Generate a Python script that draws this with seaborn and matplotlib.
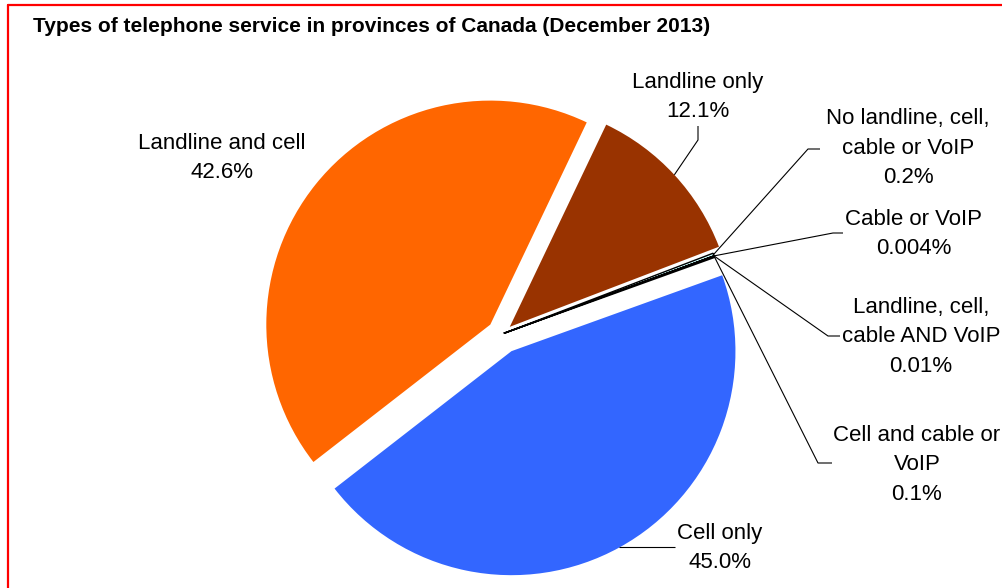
import matplotlib
matplotlib.use("Agg")
import matplotlib.pyplot as plt
from matplotlib.lines import Line2D
import numpy as np
import seaborn as sns

# Share of households by type of telephone service (December 2013)
categories = [
    "Landline only",
    "No landline, cell,\ncable or VoIP",
    "Cable or VoIP",
    "Landline, cell,\ncable AND VoIP",
    "Cell and cable or\nVoIP",
    "Cell only",
    "Landline and cell",
]
shares = [12.1, 0.2, 0.004, 0.01, 0.1, 45.0, 42.6]
share_labels = ["12.1%", "0.2%", "0.004%", "0.01%", "0.1%", "45.0%", "42.6%"]

colors = ["#993300", "#CCFFFF", "#CCFFFF", "#CCFFFF", "#CCFFFF", "#3366FF", "#FF6600"]
# wedge offsets from the pie centre, in pixels
explode = [10.6, 2.0, 2.0, 2.0, 2.0, 19.6, 15.0]

sns.set_theme(style="white")
plt.rcParams["font.family"] = ["Liberation Sans", "DejaVu Sans"]

W, H = 1002, 588
fig = plt.figure(figsize=(W / 100, H / 100), dpi=100)
fig.patch.set_facecolor("white")
ax = fig.add_axes([0, 0, 1, 1])


def px(x, y):
    """Pixel position (origin top-left) to axes data coordinates."""
    return x, H - y


wedges, _ = ax.pie(
    shares,
    explode=explode,
    colors=colors,
    startangle=64.5,
    counterclock=False,
    radius=224,
    center=px(502, 334),
    wedgeprops=dict(linewidth=0),
)
for w, v in zip(wedges, shares):
    if v < 1:
        w.set_edgecolor("black")
        w.set_linewidth(1.0)

ax.set_xlim(0, W)
ax.set_ylim(0, H)
ax.set_aspect("equal")
ax.axis("off")


def anchor(w):
    t = np.deg2rad((w.theta1 + w.theta2) / 2)
    cx, cy = w.center
    return cx + w.r * np.cos(t), cy + w.r * np.sin(t)


fs = 16
# label text centre, and leader path (elbow points) from the wedge to the label
label_layout = [
    (px(698, 97), [px(698, 140), px(698, 126)]),
    (px(908, 148), [px(808, 149), px(820, 149)]),
    (px(914, 234), [px(833, 233), px(843, 233)]),
    (px(921, 337), [px(828, 336), px(840, 336)]),
    (px(917, 465), [px(818, 463), px(832, 463)]),
    (px(720, 548), [px(675, 547)]),
    (px(222, 158), None),
]

for w, cat, lab, (pos, path) in zip(wedges, categories, share_labels, label_layout):
    ax.text(pos[0], pos[1], f"{cat}\n{lab}", ha="center", va="center",
            multialignment="center", fontsize=fs, color="black", linespacing=1.53)
    if path:
        ax0, ay0 = anchor(w)
        if len(path) == 1:
            xs = [ax0, path[0][0]]
            ys = [path[0][1], path[0][1]]
        else:
            xs = [ax0] + [p[0] for p in path]
            ys = [ay0] + [p[1] for p in path]
        ax.plot(xs, ys, color="black", linewidth=0.8, solid_capstyle="butt")

fig.text(33 / W, 1 - 26 / H, "Types of telephone service in provinces of Canada (December 2013)",
         ha="left", va="center", fontsize=15, fontweight="bold", color="black")

# red frame along the top and left edges
fig.add_artist(Line2D([8 / W, 8 / W], [0, 1 - 5 / H], transform=fig.transFigure,
                      color="#FF0000", linewidth=1.6))
fig.add_artist(Line2D([8 / W, 1], [1 - 5 / H, 1 - 5 / H], transform=fig.transFigure,
                      color="#FF0000", linewidth=1.6))

fig.savefig("out.png", dpi=100, facecolor="white")
